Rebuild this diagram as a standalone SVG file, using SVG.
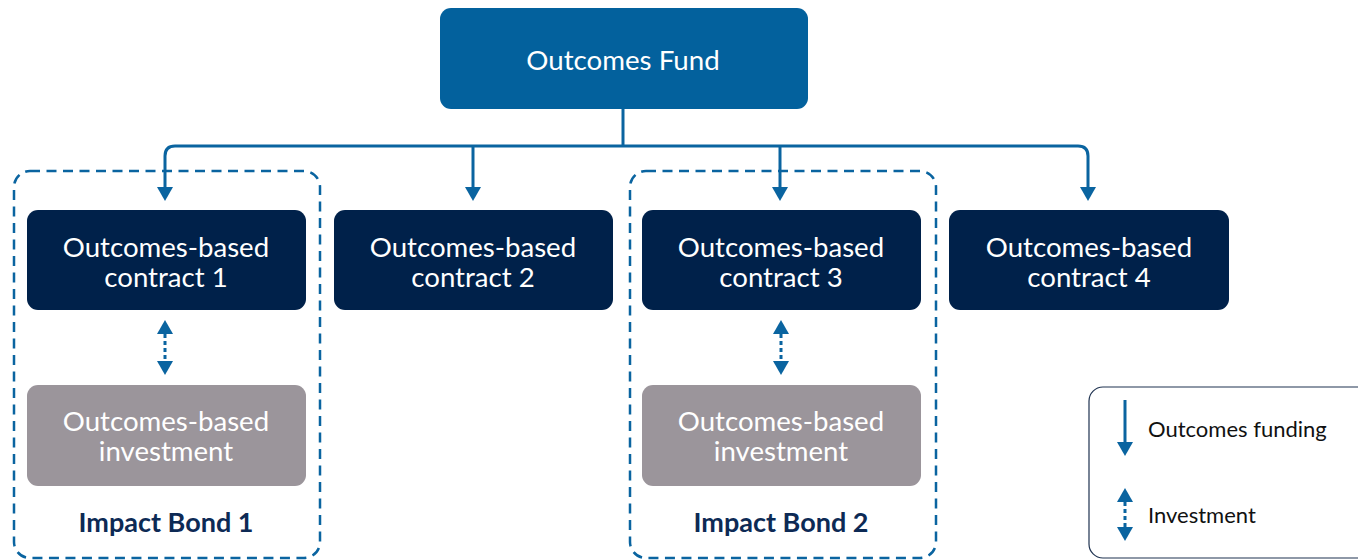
<svg xmlns="http://www.w3.org/2000/svg" width="1358" height="560" viewBox="0 0 1358 560">
  <style>
    .fund { fill: #03619d; }
    .contract { fill: #00214a; }
    .invest { fill: #9b959b; }
    .label { font-family: Lato, "Open Sans", "Liberation Sans", sans-serif; fill: #ffffff; text-anchor: middle; }
    .big { font-size: 27.7px; }
    .box-text { font-size: 27.6px; }
    .bond { fill: none; stroke: #0a64a0; stroke-width: 2.5; stroke-dasharray: 10 6.5; }
    .bond-title { font-family: Lato, "Open Sans", "Liberation Sans", sans-serif; font-size: 27px; font-weight: bold; fill: #0d2a55; text-anchor: middle; }
    .flow { fill: none; stroke: #0a64a0; stroke-width: 3; }
    .inv-link { fill: none; stroke: #0a64a0; stroke-width: 3; stroke-dasharray: 4 3; }
    .legend-text { font-family: Lato, "Open Sans", "Liberation Sans", sans-serif; font-size: 22px; fill: #111111; }
  </style>
  <defs>
    <marker id="tip" viewBox="0 0 14 16" refX="0" refY="8" markerWidth="14" markerHeight="16" markerUnits="userSpaceOnUse" orient="auto-start-reverse">
      <path d="M0,0 L14,8 L0,16 Z" fill="#0a64a0"/>
    </marker>
  </defs>

  <!-- Impact bond groupings -->
  <g id="impact-bond-1">
    <rect class="bond" x="14" y="171" width="306" height="387" rx="16"/>
    <text class="bond-title" x="166" y="532">Impact Bond 1</text>
  </g>
  <g id="impact-bond-2">
    <rect class="bond" x="630" y="171" width="306" height="387" rx="16"/>
    <text class="bond-title" x="781" y="532">Impact Bond 2</text>
  </g>

  <!-- Connectors -->
  <g id="connectors">
    <path class="flow" d="M623,109 V146"/>
    <path class="flow" d="M175,146 H1078"/>
    <path class="flow" d="M165,187 V156 Q165,146 175,146" marker-start="url(#tip)"/>
    <path class="flow" d="M473,146 V187" marker-end="url(#tip)"/>
    <path class="flow" d="M780,146 V187" marker-end="url(#tip)"/>
    <path class="flow" d="M1078,146 Q1088,146 1088,156 V187" marker-end="url(#tip)"/>
    <path class="inv-link" d="M165,334 V361" marker-start="url(#tip)" marker-end="url(#tip)"/>
    <path class="inv-link" d="M781,334 V361" marker-start="url(#tip)" marker-end="url(#tip)"/>
  </g>

  <!-- Nodes -->
  <g id="outcomes-fund">
    <rect class="fund" x="440" y="8" width="368" height="101" rx="11"/>
    <text class="label big" x="623" y="70">Outcomes Fund</text>
  </g>
  <g id="contract-1">
    <rect class="contract" x="27" y="210" width="279" height="100" rx="11"/>
    <text class="label box-text" x="166" y="257">Outcomes-based</text>
    <text class="label box-text" x="166" y="287">contract 1</text>
  </g>
  <g id="contract-2">
    <rect class="contract" x="334" y="210" width="279" height="100" rx="11"/>
    <text class="label box-text" x="473" y="257">Outcomes-based</text>
    <text class="label box-text" x="473" y="287">contract 2</text>
  </g>
  <g id="contract-3">
    <rect class="contract" x="642" y="210" width="279" height="100" rx="11"/>
    <text class="label box-text" x="781" y="257">Outcomes-based</text>
    <text class="label box-text" x="781" y="287">contract 3</text>
  </g>
  <g id="contract-4">
    <rect class="contract" x="949" y="210" width="280" height="100" rx="11"/>
    <text class="label box-text" x="1089" y="257">Outcomes-based</text>
    <text class="label box-text" x="1089" y="287">contract 4</text>
  </g>
  <g id="investment-1">
    <rect class="invest" x="27" y="385" width="279" height="101" rx="11"/>
    <text class="label box-text" x="166" y="431">Outcomes-based</text>
    <text class="label box-text" x="166" y="461">investment</text>
  </g>
  <g id="investment-2">
    <rect class="invest" x="642" y="385" width="279" height="101" rx="11"/>
    <text class="label box-text" x="781" y="431">Outcomes-based</text>
    <text class="label box-text" x="781" y="461">investment</text>
  </g>

  <!-- Legend -->
  <g id="legend">
    <rect x="1089" y="387" width="290" height="171" rx="14" fill="none" stroke="#1e3250" stroke-width="1.2"/>
    <path class="flow" d="M1125,400 V442" marker-end="url(#tip)"/>
    <text class="legend-text" x="1148" y="437">Outcomes funding</text>
    <path class="inv-link" d="M1125,502 V527" marker-start="url(#tip)" marker-end="url(#tip)"/>
    <text class="legend-text" x="1148" y="523">Investment</text>
  </g>
</svg>
